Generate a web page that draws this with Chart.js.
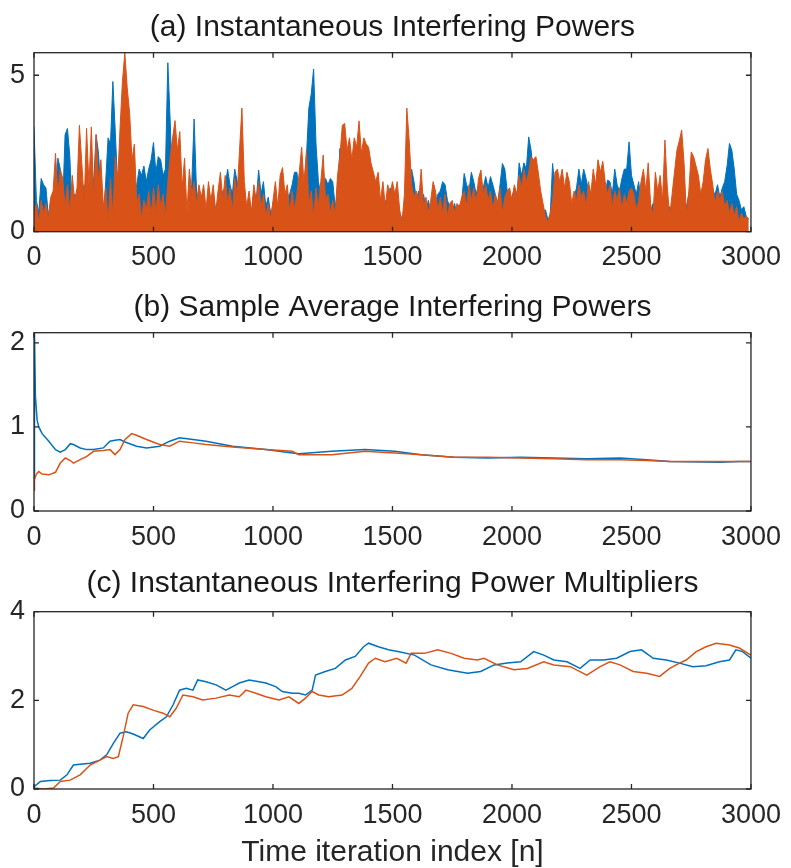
<!DOCTYPE html>
<html>
<head>
<meta charset="utf-8">
<script src="https://cdn.jsdelivr.net/npm/chart.js@4.4.0/dist/chart.umd.min.js"></script>
<style>
  html, body { margin: 0; padding: 0; background: #fff; }
  #wrap { position: relative; width: 791px; height: 868px; }
  .panel { position: absolute; left: 0; width: 791px; }
</style>
</head>
<body>
<div id="wrap">
  <div class="panel" style="top:0;height:270px"><canvas id="chartA"></canvas></div>
  <div class="panel" style="top:280px;height:270px"><canvas id="chartB"></canvas></div>
  <div class="panel" style="top:560px;height:308px"><canvas id="chartC"></canvas></div>
</div>
<script>
// shared x axis
const xTicks = [0, 500, 1000, 1500, 2000, 2500, 3000];

// (a) instantaneous powers, one value every 10 iterations
const instStep = 10;
const instBlue = [
  3.35, 1.0, 0.6, 1.7, 1.5, 1.4, 0.5, 1.0, 0.7, 1.2,
  2.35, 2.0, 0.8, 3.1, 3.3, 2.4, 0.3, 1.2, 0.9, 1.4,
  1.0, 1.5, 0.7, 1.3, 2.0, 1.6, 3.1, 2.5, 1.2, 0.4,
  1.6, 3.0, 2.8, 4.8, 3.2, 1.5, 0.5, 0.9, 0.6, 0.4,
  0.3, 0.6, 1.0, 1.5, 2.0, 1.8, 2.1, 1.6, 2.0, 2.3,
  2.85, 1.9, 2.4, 2.3, 1.8, 2.0, 5.4, 3.5, 1.2, 0.8,
  1.0, 0.6, 1.2, 0.7, 0.4, 0.9, 1.5, 3.6, 1.3, 0.7,
  0.6, 1.0, 0.5, 1.1, 0.8, 1.2, 0.7, 1.0, 0.6, 1.3,
  1.4, 2.0, 1.5, 1.2, 2.0, 1.6, 1.0, 0.8, 1.2, 0.7,
  1.0, 0.6, 1.3, 1.0, 1.97, 1.2, 1.6, 0.8, 1.1, 0.6,
  0.8, 1.2, 0.6, 1.0, 1.3, 0.7, 1.1, 1.2, 1.5, 1.9,
  1.9, 1.2, 1.0, 1.5, 2.4, 3.95, 4.4, 5.2, 2.8, 1.6,
  1.2, 1.4, 1.7, 1.5, 1.7, 1.6, 0.8, 1.2, 2.66, 1.5,
  1.4, 1.0, 1.5, 0.8, 1.3, 1.2, 0.9, 1.1, 1.0, 0.7,
  1.0, 0.6, 1.1, 0.9, 1.2, 0.7, 0.5, 1.0, 0.8, 1.4,
  1.2, 0.9, 1.0, 0.6, 0.4, 0.8, 1.4, 1.2, 2.0, 1.6,
  1.0, 1.3, 0.8, 1.2, 0.7, 1.0, 0.6, 1.1, 0.9, 1.2,
  1.3, 1.6, 1.5, 1.0, 0.8, 0.6, 0.9, 0.5, 0.8, 1.0,
  1.86, 1.5, 1.3, 1.9, 1.6, 1.2, 1.5, 1.0, 1.4, 1.76,
  1.4, 1.76, 1.5, 1.2, 0.9, 1.5, 2.18, 2.0, 1.3, 0.8,
  1.1, 1.4, 1.0, 2.2, 1.8, 2.2, 2.0, 3.03, 2.6, 1.8,
  1.5, 1.2, 0.9, 0.6, 0.7, 0.4, 0.5, 2.18, 1.4, 1.6,
  1.2, 1.5, 1.0, 1.3, 0.9, 0.6, 1.1, 1.4, 2.0, 1.5,
  2.0, 1.7, 1.3, 1.0, 1.4, 1.2, 1.5, 1.0, 1.3, 1.2,
  1.65, 1.6, 1.2, 2.0, 1.5, 1.3, 1.7, 2.0, 2.0, 2.87,
  1.8, 1.5, 1.2, 1.6, 1.0, 1.3, 0.8, 1.1, 0.6, 0.9,
  0.7, 1.0, 0.6, 0.9, 1.1, 0.5, 0.8, 0.6, 1.0, 0.7,
  0.9, 0.6, 1.0, 0.8, 1.2, 0.7, 1.0, 0.9, 1.3, 1.0,
  0.8, 1.1, 0.7, 1.0, 1.3, 1.2, 1.5, 1.1, 1.4, 1.6,
  2.1, 2.82, 2.6, 2.0, 1.2, 1.0, 0.7, 0.8, 0.5, 0.4
];
const instOrange = [
  0.5, 0.9, 0.3, 1.0, 0.6, 0.9, 0.4, 1.1, 1.3, 2.5,
  1.2, 2.0, 1.7, 0.8, 1.5, 0.6, 1.8, 1.0, 1.4, 3.4,
  2.2, 0.9, 3.3, 1.5, 3.35, 1.0, 3.1, 1.6, 2.3, 0.8,
  1.4, 0.3, 1.7, 0.5, 2.4, 1.6, 3.3, 4.8, 5.72, 4.6,
  3.8, 2.3, 2.8, 0.9, 1.2, 0.4, 1.0, 0.7, 1.3, 0.5,
  1.4, 0.6, 1.5, 0.8, 1.2, 0.5, 1.6, 2.4, 3.0, 3.55,
  2.6, 3.2, 1.4, 2.35, 0.6, 2.0, 1.2, 1.6, 0.9, 1.5,
  1.1, 1.5, 0.7, 1.6, 1.0, 1.5, 0.6, 1.3, 1.9, 1.0,
  1.8, 0.9, 1.4, 0.6, 1.7, 1.2, 2.6, 3.95, 1.6, 0.8,
  1.3, 0.6, 1.5, 1.0, 1.6, 0.8, 1.2, 0.5, 0.9, 0.4,
  1.0, 1.6, 0.8, 1.8, 2.05, 1.2, 1.5, 0.6, 1.3, 0.7,
  1.2, 1.9, 2.7, 1.5, 2.6, 0.9, 1.3, 0.5, 1.4, 0.8,
  1.6, 2.45, 1.0, 1.2, 0.6, 1.0, 0.5, 1.8, 2.4, 3.4,
  3.46, 2.6, 3.0, 2.3, 3.0, 2.7, 3.54, 2.5, 3.0, 2.8,
  2.7, 2.2, 1.9, 1.6, 1.9, 1.0, 1.6, 0.8, 1.5, 1.2,
  1.6, 1.2, 1.6, 0.7, 0.3, 1.2, 3.95, 2.9, 1.5, 1.1,
  1.3, 1.0, 2.0, 0.8, 1.1, 0.6, 1.0, 1.6, 1.3, 0.7,
  1.1, 0.6, 1.2, 0.5, 0.9, 1.0, 0.6, 0.9, 0.8, 1.1,
  1.3, 0.8, 1.5, 1.0, 1.4, 0.9, 1.7, 1.97, 1.2, 1.5,
  1.0, 1.3, 0.7, 1.2, 0.9, 1.4, 0.6, 1.1, 1.3, 1.4,
  1.0, 1.5, 1.2, 1.8, 1.4, 2.0, 1.6, 1.9, 2.4, 2.3,
  2.4, 1.9, 1.3, 0.9, 0.5, 0.3, 0.6, 1.0, 1.9, 2.0,
  1.6, 2.0, 1.4, 1.9, 1.6, 0.9, 1.3, 1.0, 1.5, 1.1,
  1.3, 0.8, 1.6, 1.2, 2.0, 1.5, 2.3, 1.9, 2.25, 1.6,
  1.2, 1.5, 0.8, 1.3, 1.0, 1.4, 0.7, 1.2, 0.9, 1.3,
  1.4, 1.2, 0.7, 1.0, 1.6, 2.0, 1.3, 2.2, 0.9, 0.5,
  1.9, 1.3, 1.8, 1.0, 2.93, 1.4, 0.5, 1.2, 1.9, 2.6,
  2.9, 3.25, 2.2, 0.5, 1.3, 2.55, 2.4, 2.1, 1.8, 1.2,
  1.6, 2.3, 2.66, 2.0, 1.5, 0.9, 1.3, 1.0, 1.3, 0.8,
  1.0, 0.6, 0.9, 0.5, 0.8, 0.3, 0.6, 0.4, 0.5, 0.4
];
const instYMax = 5.72;
const instYTicks = [0, 5];

// (b) sample averages
const avgN = [0, 2, 6, 13, 20, 34, 62, 90, 110, 131, 152, 165, 193, 221, 249, 290, 318, 339, 360, 381,
  409, 429, 471, 526, 568, 609, 665, 720, 831, 970, 1080, 1108, 1246, 1385, 1510, 1620, 1758, 1897,
  2036, 2175, 2313, 2452, 2563, 2660, 2870, 2950, 3000];
const avgBlue = [0.4, 2.12, 1.36, 1.08, 1.0, 0.92, 0.83, 0.73, 0.70, 0.73, 0.80, 0.79, 0.75, 0.73, 0.73,
  0.75, 0.83, 0.84, 0.85, 0.82, 0.79, 0.77, 0.75, 0.77, 0.83, 0.87, 0.85, 0.83, 0.77, 0.73, 0.69, 0.68,
  0.71, 0.73, 0.71, 0.67, 0.64, 0.63, 0.64, 0.63, 0.62, 0.63, 0.61, 0.59, 0.58, 0.59, 0.59];
const avgOrange = [0.25, 0.37, 0.41, 0.45, 0.47, 0.44, 0.43, 0.46, 0.57, 0.63, 0.60, 0.57, 0.61, 0.65,
  0.71, 0.72, 0.73, 0.67, 0.73, 0.85, 0.92, 0.90, 0.85, 0.79, 0.77, 0.83, 0.81, 0.79, 0.76, 0.73, 0.71,
  0.67, 0.67, 0.71, 0.69, 0.67, 0.64, 0.64, 0.63, 0.62, 0.61, 0.61, 0.60, 0.59, 0.59, 0.59, 0.59];
const avgYMax = 2.12;
const avgYTicks = [0, 1, 2];

// (c) power multipliers
const multBlueN = [0, 27, 68, 110, 138, 165, 193, 235, 276, 304, 332, 360, 387, 415, 457, 484, 526, 554,
  582, 609, 637, 665, 685, 720, 762, 803, 831, 859, 900, 942, 970, 1011, 1039, 1081, 1108, 1136, 1164,
  1178, 1219, 1261, 1303, 1344, 1379, 1400, 1441, 1483, 1523, 1592, 1661, 1731, 1814, 1869, 1925, 1980,
  2036, 2091, 2133, 2175, 2230, 2285, 2327, 2383, 2438, 2494, 2542, 2591, 2646, 2701, 2757, 2812, 2868,
  2910, 2937, 2965, 3000];
const multBlue = [0.05, 0.17, 0.19, 0.2, 0.32, 0.54, 0.56, 0.58, 0.65, 0.77, 1.03, 1.26, 1.29, 1.24, 1.14,
  1.33, 1.52, 1.63, 1.9, 2.23, 2.27, 2.23, 2.46, 2.42, 2.35, 2.23, 2.31, 2.39, 2.46, 2.42, 2.39, 2.31,
  2.2, 2.16, 2.16, 2.12, 2.23, 2.57, 2.65, 2.72, 2.91, 2.99, 3.21, 3.29, 3.21, 3.14, 3.1, 3.02, 2.8,
  2.69, 2.61, 2.65, 2.8, 2.84, 2.87, 3.1, 3.02, 2.91, 2.87, 2.72, 2.91, 2.91, 2.95, 3.1, 3.14, 2.95,
  2.91, 2.84, 2.76, 2.78, 2.87, 2.91, 3.14, 3.1, 2.95];
const multOrangeN = [0, 40, 82, 110, 151, 193, 235, 276, 304, 332, 353, 373, 394, 415, 457, 498, 540, 568,
  595, 623, 665, 706, 762, 817, 859, 887, 928, 970, 1025, 1067, 1108, 1136, 1164, 1192, 1233, 1289,
  1330, 1365, 1400, 1428, 1469, 1518, 1557, 1578, 1634, 1689, 1745, 1800, 1855, 1883, 1939, 2008, 2064,
  2133, 2175, 2244, 2313, 2369, 2410, 2452, 2507, 2563, 2618, 2660, 2701, 2729, 2771, 2812, 2854, 2910,
  2951, 3000];
const multOrange = [0.02, 0, 0.02, 0.17, 0.2, 0.32, 0.54, 0.65, 0.73, 0.69, 0.73, 1.18, 1.71, 1.9, 1.86,
  1.78, 1.71, 1.63, 1.82, 2.12, 2.08, 2.01, 2.05, 2.12, 2.08, 2.23, 2.16, 2.08, 2.01, 2.08, 1.93, 2.05,
  2.2, 2.12, 2.08, 2.12, 2.27, 2.54, 2.84, 2.95, 2.87, 2.95, 2.84, 3.06, 3.06, 3.14, 3.06, 2.95, 2.91,
  2.95, 2.8, 2.69, 2.72, 2.87, 2.8, 2.76, 2.57, 2.76, 2.87, 2.8, 2.65, 2.61, 2.54, 2.72, 2.84, 2.91,
  3.1, 3.21, 3.29, 3.25, 3.18, 3.02];
const multYMax = 4;
const multYTicks = [0, 2, 4];

const BLUE = "#0072BD";
const ORANGE = "#D95319";
const AXIS = "#262626";
const FONT = "Liberation Sans";

function pairs(xs, ys) {
  return ys.map((y, i) => ({ x: xs[i], y: y }));
}

// box around the axes with inward tick marks, like matlab
const framePlugin = {
  id: "frame",
  afterDatasetsDraw(chart) {
    const { ctx, chartArea: a, scales } = chart;
    const len = 5;
    ctx.save();
    ctx.strokeStyle = AXIS;
    ctx.lineWidth = 1.3;
    ctx.strokeRect(a.left, a.top, a.right - a.left, a.bottom - a.top);
    ctx.beginPath();
    scales.x.ticks.forEach((t) => {
      const px = scales.x.getPixelForValue(t.value);
      ctx.moveTo(px, a.bottom); ctx.lineTo(px, a.bottom - len);
      ctx.moveTo(px, a.top); ctx.lineTo(px, a.top + len);
    });
    scales.y.ticks.forEach((t) => {
      const py = scales.y.getPixelForValue(t.value);
      ctx.moveTo(a.left, py); ctx.lineTo(a.left + len, py);
      ctx.moveTo(a.right, py); ctx.lineTo(a.right - len, py);
    });
    ctx.stroke();
    ctx.restore();
  },
};

function makePanel(id, cfg) {
  const xAxis = {
    type: "linear",
    min: 0,
    max: 3000,
    afterBuildTicks: (s) => { s.ticks = xTicks.map((v) => ({ value: v })); },
    afterFit: (s) => { s.height = cfg.xHeight; },
    grid: { display: false, drawTicks: false },
    border: { display: false },
    ticks: {
      autoSkip: false, maxRotation: 0, padding: 10, color: AXIS,
      font: { family: FONT, size: 27 },
      callback: (v) => String(v),
    },
  };
  if (cfg.xTitle) {
    xAxis.title = {
      display: true, text: cfg.xTitle, color: AXIS,
      font: { family: FONT, size: 30, lineHeight: 1 }, padding: { top: 0, bottom: 0 },
    };
  }
  return new Chart(document.getElementById(id), {
    type: "line",
    data: { datasets: cfg.datasets },
    options: {
      animation: false,
      responsive: true,
      maintainAspectRatio: false,
      layout: { padding: { left: 0, right: 36, top: 0, bottom: 0 } },
      elements: { point: { radius: 0 }, line: { tension: 0 } },
      plugins: {
        legend: { display: false },
        tooltip: { enabled: false },
        title: {
          display: true, text: cfg.title, color: "#1a1a1a", fullSize: false,
          font: { family: FONT, size: 30, weight: "normal", lineHeight: 1.2 },
          padding: { top: cfg.titleTop, bottom: cfg.titleBottom },
        },
      },
      scales: {
        x: xAxis,
        y: {
          min: 0,
          max: cfg.yMax,
          afterBuildTicks: (s) => { s.ticks = cfg.yTicks.map((v) => ({ value: v })); },
          afterFit: (s) => { s.width = 34; },
          grid: { display: false, drawTicks: false },
          border: { display: false },
          ticks: { padding: 9, color: AXIS, font: { family: FONT, size: 27 }, callback: (v) => String(v) },
        },
      },
    },
    plugins: [framePlugin],
  });
}

makePanel("chartA", {
  title: "(a) Instantaneous Interfering Powers",
  titleTop: 10, titleBottom: 6.7,
  xHeight: 38.3,
  yMax: instYMax, yTicks: instYTicks,
  datasets: [
    {
      data: instBlue.map((y, i) => ({ x: i * instStep, y: y })),
      borderColor: BLUE, backgroundColor: BLUE, borderWidth: 1, fill: "origin", order: 1,
    },
    {
      data: instOrange.map((y, i) => ({ x: i * instStep, y: y })),
      borderColor: ORANGE, backgroundColor: ORANGE, borderWidth: 1, fill: "origin", order: 0,
    },
  ],
});

makePanel("chartB", {
  title: "(b) Sample Average Interfering Powers",
  titleTop: 9.5, titleBottom: 7.2,
  xHeight: 39,
  yMax: avgYMax, yTicks: avgYTicks,
  datasets: [
    { data: pairs(avgN, avgBlue), borderColor: BLUE, borderWidth: 1.5, fill: false, order: 1 },
    { data: pairs(avgN, avgOrange), borderColor: ORANGE, borderWidth: 1.5, fill: false, order: 0 },
  ],
});

makePanel("chartC", {
  title: "(c) Instantaneous Interfering Power Multipliers",
  titleTop: 6, titleBottom: 9.7,
  xHeight: 79,
  xTitle: "Time iteration index [n]",
  yMax: multYMax, yTicks: multYTicks,
  datasets: [
    { data: pairs(multBlueN, multBlue), borderColor: BLUE, borderWidth: 1.5, fill: false, order: 1 },
    { data: pairs(multOrangeN, multOrange), borderColor: ORANGE, borderWidth: 1.5, fill: false, order: 0 },
  ],
});
</script>
</body>
</html>
